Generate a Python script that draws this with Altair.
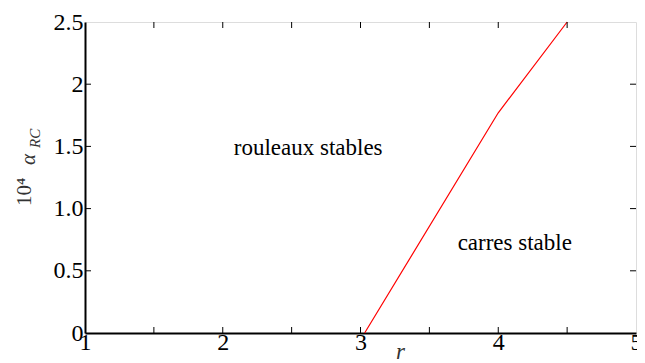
import altair as alt
import pandas as pd

# data
r_vals = [3.03, 4.0, 4.5]
alpha_vals = [0.0, 1.77, 2.5]
x_ticks = [1.5, 2, 2.5, 3, 3.5, 4, 4.5]
y_ticks = [0.5, 1.0, 1.5, 2.0]
labels_txt = ["rouleaux stables", "carres stable"]
labels_x = [2.62, 4.12]
labels_y = [1.49, 0.72]

W, H = 551, 311
FONT = "Liberation Serif"

line_df = pd.DataFrame({"r": r_vals, "a": alpha_vals})
xt_df = pd.DataFrame({"r": x_ticks})
yt_df = pd.DataFrame({"a": y_ticks})
lab_df = pd.DataFrame({"t": labels_txt, "r": labels_x, "a": labels_y})

xs = alt.Scale(domain=[1, 5], nice=False, zero=False)
ys = alt.Scale(domain=[0, 2.5], nice=False)

xaxis = alt.Axis(values=[1, 2, 3, 4, 5], format="d", grid=False, ticks=False,
                 labelFont=FONT, labelFontSize=24, labelColor="black", labelPadding=-3,
                 domainColor="black", domainWidth=2, title="r", titleFont=FONT,
                 titleFontSize=23, titleFontStyle="italic", titleFontWeight="normal",
                 titleColor="#333", titleX=315, titleY=7, labelFlush=False)
yaxis = alt.Axis(values=[0, 0.5, 1.0, 1.5, 2.0, 2.5], grid=False, ticks=False,
                 labelExpr="datum.value == 0 ? '0' : datum.value == 2 ? '2' : datum.value == 2.5 ? '2.5' : format(datum.value, '.1f')",
                 labelFont=FONT, labelFontSize=24, labelColor="black", labelPadding=2,
                 domainColor="black", domainWidth=2, title=None, labelFlush=False)

line = alt.Chart(line_df).mark_line(color="red", strokeWidth=1.2).encode(
    x=alt.X("r:Q", scale=xs, axis=xaxis),
    y=alt.Y("a:Q", scale=ys, axis=yaxis),
)

tick_b = alt.Chart(xt_df).mark_rule(color="black", strokeWidth=1).encode(
    x=alt.X("r:Q", scale=xs), y=alt.value(H), y2=alt.value(H - 6))
tick_t = alt.Chart(xt_df).mark_rule(color="black", strokeWidth=1).encode(
    x=alt.X("r:Q", scale=xs), y=alt.value(0), y2=alt.value(6))
tick_l = alt.Chart(yt_df).mark_rule(color="black", strokeWidth=1).encode(
    y=alt.Y("a:Q", scale=ys), x=alt.value(0), x2=alt.value(6))
tick_r = alt.Chart(yt_df).mark_rule(color="black", strokeWidth=1).encode(
    y=alt.Y("a:Q", scale=ys), x=alt.value(W), x2=alt.value(W - 6))

texts = alt.Chart(lab_df).mark_text(font=FONT, fontSize=23, color="black").encode(
    x=alt.X("r:Q", scale=xs), y=alt.Y("a:Q", scale=ys), text="t:N")

t1 = alt.Chart(pd.DataFrame({"t": ["10⁴"]})).mark_text(
    font=FONT, fontSize=21, angle=270, align="left", baseline="alphabetic", color="#333"
).encode(text="t:N", x=alt.value(-54), y=alt.value(184))
t2 = alt.Chart(pd.DataFrame({"t": ["α"]})).mark_text(
    font=FONT, fontSize=21, fontStyle="italic", angle=270, align="left", baseline="alphabetic", color="#333"
).encode(text="t:N", x=alt.value(-50), y=alt.value(143))
t3 = alt.Chart(pd.DataFrame({"t": ["RC"]})).mark_text(
    font=FONT, fontSize=15, fontStyle="italic", angle=270, align="left", baseline="alphabetic", color="#333"
).encode(text="t:N", x=alt.value(-45), y=alt.value(126))

chart = alt.layer(line, tick_b, tick_t, tick_l, tick_r, texts, t1, t2, t3).properties(
    width=W, height=H,
    autosize=alt.AutoSizeParams(type="none"),
    padding={"left": 77, "top": 14, "right": 1, "bottom": 34},
).configure_view(stroke="black", strokeWidth=1.5).configure(background="white")

chart.save("out.html", embed_options={"renderer": "svg", "actions": False})
